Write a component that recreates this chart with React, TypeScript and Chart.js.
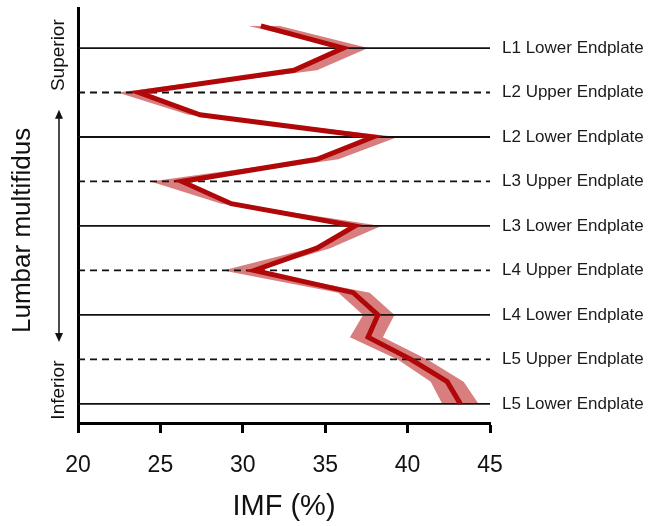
import React, { useEffect, useRef } from 'react';
import { Chart, registerables } from 'chart.js';

Chart.register(...registerables);

// Vertical sample positions (0 = L1 lower endplate, 8 = L5 lower endplate)
const positions = [-0.5, 0, 0.5, 1, 1.5, 2, 2.5, 3, 3.5, 4, 4.5, 5, 5.5, 6, 6.5, 7, 7.5, 8];
// IMF (%) mean and confidence band
const imfMean = [31.1, 36.1, 33.1, 23.7, 27.4, 37.9, 34.5, 26.3, 29.3, 36.8, 34.5, 30.7, 36.7, 38.2, 37.6, 40.2, 42.4, 43.2];
const imfLower = [30.3, 35.9, 32.8, 22.4, 26.7, 38.0, 34.2, 24.4, 28.7, 37.0, 34.1, 28.8, 35.8, 37.3, 36.5, 39.4, 41.4, 42.1];
const imfUpper = [32.2, 37.6, 34.5, 23.8, 27.6, 39.4, 35.8, 26.4, 29.6, 38.4, 35.3, 30.8, 37.7, 39.2, 38.5, 41.2, 43.4, 44.3];

const endplateLabels = [
  'L1 Lower Endplate',
  'L2 Upper Endplate',
  'L2 Lower Endplate',
  'L3 Upper Endplate',
  'L3 Lower Endplate',
  'L4 Upper Endplate',
  'L4 Lower Endplate',
  'L5 Upper Endplate',
  'L5 Lower Endplate',
];
const endplatePositions = [0, 1, 2, 3, 4, 5, 6, 7, 8];

const xMin = 20;
const xMax = 45;
const xStep = 5;
const yMin = -0.9;
const yMax = 8.43;

const FONT = "'Liberation Sans', Arial, Helvetica, sans-serif";

const sidePlugin = {
  id: 'sideLabels',
  afterDraw(chart: any) {
    const { ctx, chartArea, scales } = chart;
    const ys = scales.y;
    const left = chartArea.left;
    ctx.save();
    ctx.fillStyle = '#111';
    const drawRot = (text: string, x: number, cy: number, size: number) => {
      ctx.save();
      ctx.translate(x, cy);
      ctx.rotate(-Math.PI / 2);
      ctx.font = `${size}px ${FONT}`;
      ctx.textAlign = 'center';
      ctx.textBaseline = 'alphabetic';
      ctx.fillText(text, 0, 0);
      ctx.restore();
    };
    drawRot('Lumbar multifidus', left - 48, ys.getPixelForValue(4.1), 26);
    drawRot('Superior', left - 14, ys.getPixelForValue(0.16), 19);
    drawRot('Inferior', left - 14, ys.getPixelForValue(7.69), 19);

    // double-headed arrow
    const ax = left - 19;
    const yTop = ys.getPixelForValue(1.39);
    const yBot = ys.getPixelForValue(6.61);
    ctx.strokeStyle = '#111';
    ctx.lineWidth = 1.5;
    ctx.beginPath();
    ctx.moveTo(ax, yTop + 6);
    ctx.lineTo(ax, yBot - 6);
    ctx.stroke();
    ctx.beginPath();
    ctx.moveTo(ax, yTop);
    ctx.lineTo(ax - 4, yTop + 9);
    ctx.lineTo(ax + 4, yTop + 9);
    ctx.closePath();
    ctx.fill();
    ctx.beginPath();
    ctx.moveTo(ax, yBot);
    ctx.lineTo(ax - 4, yBot - 9);
    ctx.lineTo(ax + 4, yBot - 9);
    ctx.closePath();
    ctx.fill();
    ctx.restore();
  },
};

export default function App() {
  const canvasRef = useRef<HTMLCanvasElement | null>(null);

  useEffect(() => {
    if (!canvasRef.current) return;

    const meanData = positions.map((p, i) => ({ x: imfMean[i], y: p }));
    const loData = positions.map((p, i) => ({ x: imfLower[i], y: p }));
    const hiData = positions.map((p, i) => ({ x: imfUpper[i], y: p }));

    const endplateSets = endplatePositions.map((p, i) => ({
      label: endplateLabels[i],
      data: [
        { x: xMin, y: p },
        { x: xMax, y: p },
      ],
      borderColor: '#111',
      borderWidth: 1.8,
      borderDash: endplateLabels[i].includes('Upper') ? [7, 5] : [],
      pointRadius: 0,
      fill: false,
      order: 1,
    }));

    const chart = new Chart(canvasRef.current, {
      type: 'line',
      data: {
        datasets: [
          {
            label: 'Mean',
            data: meanData,
            borderColor: '#b00808',
            borderWidth: 5,
            borderJoinStyle: 'miter',
            pointRadius: 0,
            tension: 0,
            fill: false,
            order: 0,
          },
          {
            label: 'Lower',
            data: loData,
            borderColor: 'transparent',
            borderWidth: 0,
            pointRadius: 0,
            tension: 0,
            fill: false,
            order: 3,
          },
          {
            label: 'Upper',
            data: hiData,
            borderColor: 'transparent',
            backgroundColor: 'rgba(190,40,40,0.6)',
            borderWidth: 0,
            pointRadius: 0,
            tension: 0,
            fill: '-1',
            order: 3,
          },
          ...endplateSets,
        ] as any,
      },
      options: {
        indexAxis: 'y',
        animation: false,
        responsive: true,
        maintainAspectRatio: false,
        layout: { padding: { top: 8, left: 0, right: 0, bottom: 0 } },
        plugins: {
          legend: { display: false },
          tooltip: { enabled: false },
        },
        scales: {
          x: {
            type: 'linear',
            position: 'bottom',
            min: xMin,
            max: xMax,
            ticks: {
              stepSize: xStep,
              color: '#111',
              padding: 19,
              font: { family: FONT, size: 23 },
            },
            grid: {
              display: true,
              drawOnChartArea: false,
              drawTicks: true,
              tickLength: 10,
              tickWidth: 3,
              tickColor: '#000',
            },
            border: { display: true, width: 3, color: '#000' },
            title: {
              display: true,
              text: 'IMF (%)',
              color: '#111',
              font: { family: FONT, size: 29 },
              padding: { top: 0, bottom: 2 },
            },
            afterFit: (s: any) => {
              s.height = 103;
              s.paddingLeft = 0;
              s.paddingRight = 0;
            },
          },
          y: {
            type: 'linear',
            position: 'left',
            reverse: true,
            min: yMin,
            max: yMax,
            ticks: { display: false },
            grid: { display: false, drawTicks: false },
            border: { display: true, width: 3, color: '#000' },
            afterFit: (s: any) => {
              s.width = 78;
              s.paddingTop = 0;
              s.paddingBottom = 0;
            },
          },
          y2: {
            type: 'linear',
            position: 'right',
            reverse: true,
            min: yMin,
            max: yMax,
            afterBuildTicks: (s: any) => {
              s.ticks = endplatePositions.map((v) => ({ value: v }));
            },
            ticks: {
              autoSkip: false,
              color: '#1a1a1a',
              padding: 12,
              font: { family: FONT, size: 17 },
              callback: (_v: any, i: number) => endplateLabels[i],
            },
            grid: { display: false, drawTicks: false },
            border: { display: false },
            afterFit: (s: any) => {
              s.width = 159;
              s.paddingTop = 0;
              s.paddingBottom = 0;
            },
          },
        },
      } as any,
      plugins: [sidePlugin],
    });

    return () => chart.destroy();
  }, []);

  return (
    <div style={{ position: 'fixed', left: 0, top: 0, width: 649, height: 526, background: '#fff' }}>
      <canvas ref={canvasRef} />
    </div>
  );
}
